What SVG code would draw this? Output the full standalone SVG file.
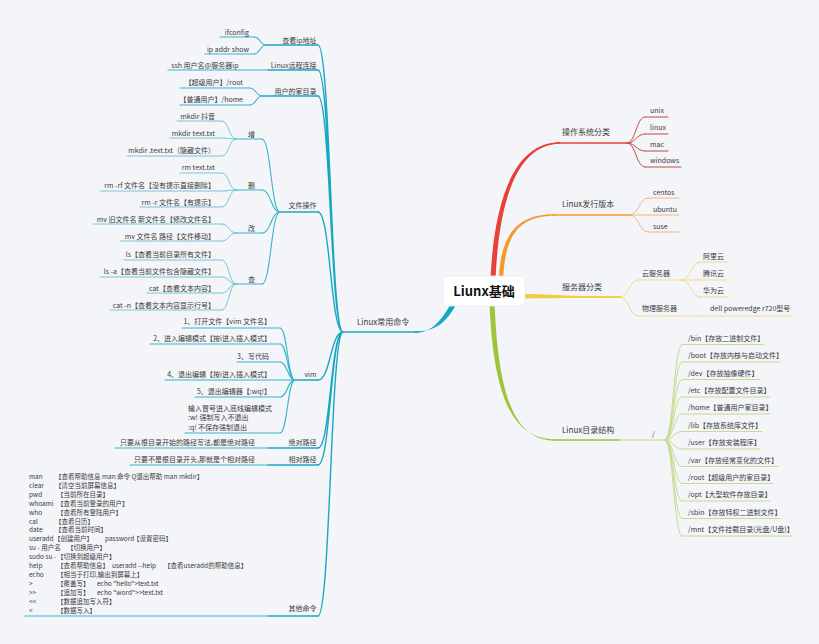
<svg xmlns="http://www.w3.org/2000/svg" width="819" height="644" viewBox="0 0 819 644">
<style>
text{font-family:"Noto Sans CJK SC","Noto Sans",sans-serif;fill:#3a3a3a}
.t65{font-size:6.5px}
.t7{font-size:7px}
.t8{font-size:8px}
.e{text-anchor:end}
.ln{fill:none;stroke-linecap:round}
.r2{stroke:#e8403a;stroke-width:1.4}
.r3{stroke:#c24b47;stroke-width:1}
.o2{stroke:#f39a2f;stroke-width:1.4}
.o3{stroke:#f4b877;stroke-width:1}
.y2{stroke:#f3cd3d;stroke-width:1.4}
.y3{stroke:#f1d98a;stroke-width:1}
.g2{stroke:#9dc43a;stroke-width:1.4}
.g3{stroke:#c6db8c;stroke-width:1}
.c2{stroke:#18a7c3;stroke-width:1.4}
.c3{stroke:#36b4cb;stroke-width:1.1}
.c4{stroke:#74c6d8;stroke-width:1}
</style>
<rect x="0" y="0" width="819" height="644" fill="#f4f5f9"/>
<g id="connectors">
<path fill="#e8403a" d="M490.5,279 C494.5,190 519,141.8 560,142.3 L560,143.7 C521,144.3 499.5,190 495.5,279 Z"/>
<path fill="#f39a2f" d="M498.8,279 C500.8,232 519,214.3 555,214.3 L555,215.7 C521,215.7 505.2,232 503.2,279 Z"/>
<path fill="#f3cd3d" d="M524,293.8 C560,295.5 590,296.3 620,296.3 L620,297.7 C590,297.7 560,298 524,298.4 Z"/>
<path fill="#9dc43a" d="M489.5,303 C493.5,400 514,439.3 555,439.3 L555,440.7 C516,440.7 498.5,400 494.5,303 Z"/>
<path fill="#18a7c3" d="M455.2,306.2 C444,325.5 433,331.3 415,331.3 L415,332.7 C431,332.7 440,322.5 450.8,303.7 Z"/>
<path class="ln r3" d="M627,143 C636,143 636,117 645,117 M627,143 C636,143 636,134 645,134 M627,143 C636,143 636,151 645,151 M627,143 C636,143 636,167 645,167"/>
<path class="ln o3" d="M630,215 C639,215 639,198 648,198 M630,215 L648,215 M630,215 C639,215 639,232 648,232"/>
<path class="ln y3" d="M620,297 C629,297 629,280 638,280 M620,297 C629,297 629,316 638,316 M682,280 C691,280 691,262 700,262 M682,280 L700,280 M682,280 C691,280 691,297 700,297"/>
<path class="ln g3" d="M665,440 C673.5,440 673.5,344.5 682,344.5 M665,440 C673.5,440 673.5,362 682,362 M665,440 C673.5,440 673.5,379.5 682,379.5 M665,440 C673.5,440 673.5,397 682,397 M665,440 C673.5,440 673.5,414 682,414 M665,440 C673.5,440 673.5,431.5 682,431.5 M665,440 C673.5,440 673.5,449 682,449 M665,440 C673.5,440 673.5,466.5 682,466.5 M665,440 C673.5,440 673.5,483.5 682,483.5 M665,440 C673.5,440 673.5,501 682,501 M665,440 C673.5,440 673.5,518.5 682,518.5 M665,440 C673.5,440 673.5,536 682,536"/>
<path class="ln c2" d="M343,332 C330.5,332 330.5,45 318,45 M343,332 C330.5,332 330.5,70 318,70 M343,332 C330.5,332 330.5,96 318,96 M343,332 C330.5,332 330.5,212 318,212 M343,332 C330.5,332 330.5,380 318,380 M343,332 C330.5,332 330.5,448 318,448 M343,332 C330.5,332 330.5,465 318,465 M343,332 C330.5,332 330.5,616 318,616"/>
<path class="ln c3" d="M266,45 C260,45 260,37 254,37 M266,45 C260,45 260,54 254,54 M262,96 C256,96 256,88 250,88 M262,96 C256,96 256,105 250,105 M280,212 C271,212 271,139 262,139 M280,212 C271,212 271,190 262,190 M280,212 C271,212 271,233 262,233 M280,212 C271,212 271,284 262,284 M295,380 C287.5,380 287.5,328 280,328 M295,380 C287.5,380 287.5,344 280,344 M295,380 C287.5,380 287.5,362 280,362 M295,380 L280,380 M295,380 C287.5,380 287.5,397 280,397 M295,380 C287.5,380 287.5,433 280,433"/>
<path class="ln c4" d="M236,139 C229,139 229,121 222,121 M236,139 C229,139 229,138 222,138 M236,139 C229,139 229,156 222,156 M236,190 C229,190 229,173 222,173 M236,190 C229,190 229,191 222,191 M236,190 C229,190 229,207 222,207 M236,233 C229,233 229,224 222,224 M236,233 C229,233 229,241 222,241 M236,284 C229,284 229,260 222,260 M236,284 C229,284 229,277 222,277 M236,284 C229,284 229,293 222,293 M236,284 C229,284 229,310 222,310"/>
</g>
<g id="n-root">
<rect x="443" y="276" width="82" height="30" rx="5" fill="#ffffff" stroke="#ebecf1" stroke-width="0.8"/>
<text x="484" y="296" style="font-size:13px;font-weight:bold;text-anchor:middle;fill:#111">Liunx基础</text>
</g>
<g id="n-os"><path class="ln r2" d="M556,143H627"/><text class="t8" x="562" y="135">操作系统分类</text></g>
<g id="n-unix"><path class="ln r3" d="M645,117H668"/><text class="t7" x="650" y="112.7">unix</text></g>
<g id="n-linux"><path class="ln r3" d="M645,134H668"/><text class="t7" x="650" y="129.7">linux</text></g>
<g id="n-mac"><path class="ln r3" d="M645,151H668"/><text class="t7" x="650" y="146.7">mac</text></g>
<g id="n-windows"><path class="ln r3" d="M645,167H681"/><text class="t7" x="650" y="163.2">windows</text></g>
<g id="n-dist"><path class="ln o2" d="M553,215H630"/><text class="t8" x="562" y="207">Linux发行版本</text></g>
<g id="n-centos"><path class="ln o3" d="M648,198H679"/><text class="t7" x="653" y="194.7">centos</text></g>
<g id="n-ubuntu"><path class="ln o3" d="M648,215H679"/><text class="t7" x="653" y="211.7">ubuntu</text></g>
<g id="n-suse"><path class="ln o3" d="M648,232H679"/><text class="t7" x="653" y="228.7">suse</text></g>
<g id="n-server"><path class="ln y2" d="M558,297H620"/><text class="t8" x="562" y="290">服务器分类</text></g>
<g id="n-cloud"><path class="ln y3" d="M638,280H682"/><text class="t7" x="642" y="275.7">云服务器</text></g>
<g id="n-ali"><path class="ln y3" d="M700,262H727"/><text class="t7" x="703" y="258.7">阿里云</text></g>
<g id="n-tencent"><path class="ln y3" d="M700,280H727"/><text class="t7" x="703" y="275.7">腾讯云</text></g>
<g id="n-huawei"><path class="ln y3" d="M700,297H727"/><text class="t7" x="703" y="292.7">华为云</text></g>
<g id="n-physical"><path class="ln y3" d="M638,316H700"/><text class="t7" x="642" y="310.7">物理服务器</text></g>
<g id="n-dell"><path class="ln y3" d="M700,316H792"/><text class="t7" x="710" y="310.7">dell poweredge r720型号</text></g>
<g id="n-dir"><path class="ln g2" d="M553,440H620"/><text class="t8" x="562" y="433">Linux目录结构</text></g>
<g id="n-slash"><path class="ln g3" d="M620,440H665"/><text class="t7" x="652" y="437">/</text></g>
<g id="n-bin"><path class="ln g3" d="M682,344.5H763"/><text class="t7" x="688" y="340.7">/bin【存放二进制文件】</text></g>
<g id="n-boot"><path class="ln g3" d="M682,362H780"/><text class="t7" x="688" y="358.1">/boot【存放内核与启动文件】</text></g>
<g id="n-dev"><path class="ln g3" d="M682,379.5H760"/><text class="t7" x="688" y="375.5">/dev【存放抽像硬件】</text></g>
<g id="n-etc"><path class="ln g3" d="M682,397H770"/><text class="t7" x="688" y="392.9">/etc【存放配置文件目录】</text></g>
<g id="n-home"><path class="ln g3" d="M682,414H770"/><text class="t7" x="688" y="410.3">/home【普通用户家目录】</text></g>
<g id="n-lib"><path class="ln g3" d="M682,431.5H762"/><text class="t7" x="688" y="427.7">/lib【存放系统库文件】</text></g>
<g id="n-user"><path class="ln g3" d="M682,449H760"/><text class="t7" x="688" y="445.1">/user【存放安装程序】</text></g>
<g id="n-var"><path class="ln g3" d="M682,466.5H778"/><text class="t7" x="688" y="462.5">/var【存放经常变化的文件】</text></g>
<g id="n-rootdir"><path class="ln g3" d="M682,483.5H773"/><text class="t7" x="688" y="479.9">/root【超级用户的家目录】</text></g>
<g id="n-opt"><path class="ln g3" d="M682,501H770"/><text class="t7" x="688" y="497.3">/opt【大型软件存放目录】</text></g>
<g id="n-sbin"><path class="ln g3" d="M682,518.5H780"/><text class="t7" x="688" y="514.7">/sbin【存放特权二进制文件】</text></g>
<g id="n-mnt"><path class="ln g3" d="M682,536H792"/><text class="t7" x="688" y="532.1">/mnt【文件挂载目录(光盘/U盘)】</text></g>
<g id="n-cmd"><path class="ln c2" d="M343,332H418"/><text class="t8" x="357" y="325">Linux常用命令</text></g>
<g id="n-ip"><path class="ln c2" d="M266,45H318"/><text class="t7 e" x="316.5" y="42.7">查看ip地址</text></g>
<g id="n-ifconfig"><path class="ln c3" d="M220,37H254"/><text class="t7 e" x="249" y="34.7">ifconfig</text></g>
<g id="n-ipaddr"><path class="ln c3" d="M205,54H254"/><text class="t7 e" x="249" y="51.7">ip addr show</text></g>
<g id="n-ssh"><path class="ln c2" d="M268,70H318"/><text class="t7 e" x="316.5" y="67.7">Linux远程连接</text></g>
<g id="n-sshcmd"><path class="ln c3" d="M168,70H268"/><text class="t7 e" x="238.5" y="67.7">ssh 用户名@服务器ip</text></g>
<g id="n-userhome"><path class="ln c2" d="M262,96H318"/><text class="t7 e" x="316.5" y="93.7">用户的家目录</text></g>
<g id="n-roothome"><path class="ln c3" d="M180,88H250"/><text class="t7 e" x="243" y="84.7">【超级用户】/root</text></g>
<g id="n-normalhome"><path class="ln c3" d="M180,105H250"/><text class="t7 e" x="243" y="101.7">【普通用户】/home</text></g>
<g id="n-file"><path class="ln c2" d="M280,212H318"/><text class="t7 e" x="316.5" y="207.7">文件操作</text></g>
<g id="n-add"><path class="ln c3" d="M236,139H262"/><text class="t7 e" x="255" y="136.7">增</text></g>
<g id="n-add1"><path class="ln c4" d="M177,121H222"/><text class="t7 e" x="215" y="118.7">mkdir 抖音</text></g>
<g id="n-add2"><path class="ln c4" d="M170,138H222"/><text class="t7 e" x="215" y="135.7">mkdir text.txt</text></g>
<g id="n-add3"><path class="ln c4" d="M127,156H222"/><text class="t7 e" x="215" y="152.7">mkdir .text.txt（隐藏文件）</text></g>
<g id="n-del"><path class="ln c3" d="M236,190H262"/><text class="t7 e" x="255" y="187.7">删</text></g>
<g id="n-del1"><path class="ln c4" d="M180,173H222"/><text class="t7 e" x="215" y="169.7">rm text.txt</text></g>
<g id="n-del2"><path class="ln c4" d="M100,191H222"/><text class="t7 e" x="215" y="187.7">rm -rf 文件名【没有提示直接删除】</text></g>
<g id="n-del3"><path class="ln c4" d="M140,207H222"/><text class="t7 e" x="215" y="204.7">rm -r 文件名【有提示】</text></g>
<g id="n-mod"><path class="ln c3" d="M236,233H262"/><text class="t7 e" x="255" y="230.7">改</text></g>
<g id="n-mod1"><path class="ln c4" d="M93,224H222"/><text class="t7 e" x="215" y="221.7">mv 旧文件名 新文件名【修改文件名】</text></g>
<g id="n-mod2"><path class="ln c4" d="M120,241H222"/><text class="t7 e" x="215" y="238.7">mv 文件名 路径【文件移动】</text></g>
<g id="n-query"><path class="ln c3" d="M236,284H262"/><text class="t7 e" x="255" y="281.7">查</text></g>
<g id="n-q1"><path class="ln c4" d="M124,260H222"/><text class="t7 e" x="215" y="256.7">ls【查看当前目录所有文件】</text></g>
<g id="n-q2"><path class="ln c4" d="M100,277H222"/><text class="t7 e" x="215" y="273.7">ls -a【查看当前文件包含隐藏文件】</text></g>
<g id="n-q3"><path class="ln c4" d="M147,293H222"/><text class="t7 e" x="215" y="290.7">cat【查看文本内容】</text></g>
<g id="n-q4"><path class="ln c4" d="M110,310H222"/><text class="t7 e" x="215" y="307.7">cat -n【查看文本内容显示行号】</text></g>
<g id="n-vim"><path class="ln c2" d="M295,380H318"/><text class="t7 e" x="316.5" y="376.7">vim</text></g>
<g id="n-vim1"><path class="ln c3" d="M182,328H280"/><text class="t7 e" x="271" y="323.7">1、打开文件【vim 文件名】</text></g>
<g id="n-vim2"><path class="ln c3" d="M150,344H280"/><text class="t7 e" x="271" y="340.7">2、进入编辑模式【按i进入插入模式】</text></g>
<g id="n-vim3"><path class="ln c3" d="M237,362H280"/><text class="t7 e" x="269" y="358.7">3、写代码</text></g>
<g id="n-vim4"><path class="ln c3" d="M165,380H280"/><text class="t7 e" x="271" y="376.7">4、退出编辑【按i进入插入模式】</text></g>
<g id="n-vim5"><path class="ln c3" d="M195,397H280"/><text class="t7 e" x="271" y="393.7">5、退出编辑器【:wq!】</text></g>
<g id="n-vim6"><path class="ln c3" d="M185,433H280"/><text class="t7" x="188" y="410.5">输入冒号进入底线编辑模式</text><text class="t7" x="188" y="420">:w!  强制写入不退出</text><text class="t7" x="188" y="429.5">:q!  不保存强制退出</text></g>
<g id="n-abs"><path class="ln c2" d="M268,448H318"/><text class="t7 e" x="316.5" y="444.7">绝对路径</text></g>
<g id="n-abs1"><path class="ln c3" d="M115,448H268"/><text class="t7 e" x="255" y="444.7">只要从根目录开始的路径写法,都是绝对路径</text></g>
<g id="n-rel"><path class="ln c2" d="M268,465H318"/><text class="t7 e" x="316.5" y="461.7">相对路径</text></g>
<g id="n-rel1"><path class="ln c3" d="M130,465H268"/><text class="t7 e" x="255" y="461.7">只要不是根目录开头,那就是个相对路径</text></g>
<g id="n-other"><path class="ln c2" d="M268,616H318"/><text class="t7 e" x="316.5" y="611">其他命令</text></g>
<g id="n-otherlist">
<path class="ln c3" d="M25,616H268"/>
<text class="t65" y="479"><tspan x="29">man</tspan><tspan x="55">【查看帮助信息 man 命令 Q退出帮助  man mkdir】</tspan></text>
<text class="t65" y="487.9"><tspan x="29">clear</tspan><tspan x="55">【清空当前屏幕信息】</tspan></text>
<text class="t65" y="496.8"><tspan x="29">pwd</tspan><tspan x="57">【当前所在目录】</tspan></text>
<text class="t65" y="505.7"><tspan x="29">whoami</tspan><tspan x="57">【查看当前登录的用户】</tspan></text>
<text class="t65" y="514.6"><tspan x="29">who</tspan><tspan x="57">【查看所有登陆用户】</tspan></text>
<text class="t65" y="523.5"><tspan x="29">cal</tspan><tspan x="55">【查看日历】</tspan></text>
<text class="t65" y="532.4"><tspan x="29">date</tspan><tspan x="55">【查看当前时间】</tspan></text>
<text class="t65" y="541.3"><tspan x="29">useradd</tspan><tspan x="54">【创建用户】</tspan><tspan x="105">password</tspan><tspan x="133">【设置密码】</tspan></text>
<text class="t65" y="550.2"><tspan x="29">su - 用户名</tspan><tspan x="67">【切换用户】</tspan></text>
<text class="t65" y="559.1"><tspan x="29">sudo su -</tspan><tspan x="57">【切换到超级用户】</tspan></text>
<text class="t65" y="568"><tspan x="29">help</tspan><tspan x="57">【查看帮助信息】</tspan><tspan x="112">useradd --help</tspan><tspan x="164">【查看useradd的帮助信息】</tspan></text>
<text class="t65" y="576.9"><tspan x="29">echo</tspan><tspan x="57">【相当于打印,输出到屏幕上】</tspan></text>
<text class="t65" y="585.8"><tspan x="29">&gt;</tspan><tspan x="57">【覆盖写】</tspan><tspan x="97">echo "hello"&gt;text.txt</tspan></text>
<text class="t65" y="594.7"><tspan x="29">&gt;&gt;</tspan><tspan x="57">【追加写】</tspan><tspan x="97">echo "word"&gt;&gt;text.txt</tspan></text>
<text class="t65" y="603.6"><tspan x="29">&lt;&lt;</tspan><tspan x="57">【数据追加写入符】</tspan></text>
<text class="t65" y="612.5"><tspan x="29">&lt;</tspan><tspan x="57">【数据写入】</tspan></text>
</g>
</svg>
